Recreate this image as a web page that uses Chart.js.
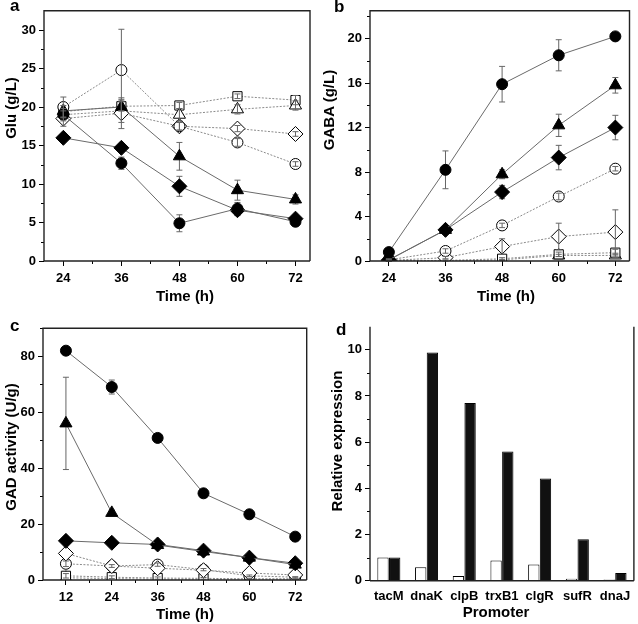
<!DOCTYPE html>
<html>
<head>
<meta charset="utf-8">
<script src="https://cdn.jsdelivr.net/npm/chart.js@4.4.1/dist/chart.umd.min.js"></script>
<style>
  body { margin: 0; background: #fff; }
  #page { position: relative; width: 638px; height: 624px; overflow: hidden; font-family: "Liberation Sans", Arial, sans-serif; }
  .panel { position: absolute; }
  .letter { position: absolute; font-size: 17px; font-weight: bold; color: #000; }
  .title { position: absolute; font-size: 15px; font-weight: bold; color: #000; white-space: nowrap; line-height: 1; transform: translate(-50%, -50%); }
  .title.vert { transform: translate(-50%, -50%) rotate(-90deg); }
</style>
</head>
<body>
<div id="page">
  <canvas id="chart-a" class="panel" width="319" height="310" style="left:0;top:0"></canvas>
  <canvas id="chart-b" class="panel" width="319" height="310" style="left:319px;top:0"></canvas>
  <canvas id="chart-c" class="panel" width="319" height="314" style="left:0;top:310px"></canvas>
  <canvas id="chart-d" class="panel" width="319" height="314" style="left:319px;top:310px"></canvas>
  <div class="letter" style="left:10px;top:-4px">a</div>
  <div class="letter" style="left:334px;top:-3px">b</div>
  <div class="letter" style="left:10px;top:316px">c</div>
  <div class="letter" style="left:336px;top:320px">d</div>
  <div class="title vert" style="left:10px;top:108px">Glu (g/L)</div>
  <div class="title" style="left:185px;top:295px">Time (h)</div>
  <div class="title vert" style="left:328px;top:110px">GABA (g/L)</div>
  <div class="title" style="left:506px;top:295px">Time (h)</div>
  <div class="title vert" style="left:10px;top:447px">GAD activity (U/g)</div>
  <div class="title" style="left:185px;top:613px">Time (h)</div>
  <div class="title vert" style="left:336px;top:441px">Relative expression</div>
  <div class="title" style="left:496px;top:611px">Promoter</div>
</div>
<script>
const TIME_AB = [24, 36, 48, 60, 72];
const TIME_C = [12, 24, 36, 48, 60, 72];

// a: Glu (g/L)
const gluFilledCircle = [19.0, 12.7, 4.9, 6.8, 5.1];
const gluFilledCircleErr = [0.5, 0.8, 1.1, 0.8, 0.3];
const gluFilledTriangle = [19.5, 20.0, 13.6, 9.2, 8.0];
const gluFilledTriangleErr = [0.6, 0.8, 1.8, 1.3, 0.6];
const gluFilledDiamond = [16.0, 14.7, 9.7, 6.6, 5.5];
const gluFilledDiamondErr = [0.3, 0.4, 1.3, 0.7, 0.4];
const gluOpenCircle = [20.0, 24.8, 17.5, 15.4, 12.6];
const gluOpenCircleErr = [1.3, 5.3, 0.5, 0.5, 0.3];
const gluOpenDiamond = [18.5, 19.2, 17.5, 17.2, 16.5];
const gluOpenDiamondErr = [1.0, 2.0, 0.5, 0.4, 0.3];
const gluOpenTriangle = [19.0, 19.5, 19.0, 19.7, 20.2];
const gluOpenTriangleErr = [0.8, 1.5, 0.8, 0.6, 0.6];
const gluOpenSquare = [19.4, 20.1, 20.2, 21.4, 20.9];
const gluOpenSquareErr = [0.8, 0.6, 0.4, 0.3, 0.6];

// b: GABA (g/L)
const gabaFilledCircle = [0.8, 8.2, 15.9, 18.5, 20.2];
const gabaFilledCircleErr = [0.2, 1.7, 1.6, 1.4, 0.2];
const gabaFilledTriangle = [0.1, 2.8, 7.8, 12.2, 15.8];
const gabaFilledTriangleErr = [0.1, 0.3, 0.4, 1.0, 0.7];
const gabaFilledDiamond = [0.1, 2.8, 6.2, 9.3, 12.0];
const gabaFilledDiamondErr = [0.1, 0.3, 0.6, 1.1, 1.1];
const gabaOpenCircle = [0.1, 0.9, 3.2, 5.8, 8.3];
const gabaOpenCircleErr = [0.1, 0.2, 0.2, 0.3, 0.2];
const gabaOpenDiamond = [0.05, 0.3, 1.3, 2.2, 2.6];
const gabaOpenDiamondErr = [0.05, 0.1, 0.7, 1.2, 2.0];
const gabaOpenSquare = [0.05, 0.05, 0.2, 0.6, 0.75];
const gabaOpenSquareErr = [0.05, 0.05, 0.1, 0.2, 0.3];
const gabaOpenTriangle = [0.0, 0.0, 0.1, 0.5, 0.5];
const gabaOpenTriangleErr = [0.0, 0.0, 0.05, 0.1, 0.2];

// c: GAD activity (U/g)
const gadFilledCircle = [82.0, 69.0, 50.8, 31.0, 23.5, 15.5];
const gadFilledCircleErr = [0.5, 2.5, 0.8, 0.5, 0.5, 0.5];
const gadFilledTriangle = [56.0, 24.0, 12.5, 10.2, 8.0, 5.5];
const gadFilledTriangleErr = [16.5, 1.0, 0.8, 0.6, 0.5, 0.5];
const gadFilledDiamond = [14.0, 13.3, 12.7, 10.5, 8.0, 6.0];
const gadFilledDiamondErr = [0.5, 0.4, 0.4, 0.5, 0.4, 0.3];
const gadOpenDiamond = [9.5, 5.0, 4.2, 3.5, 2.5, 1.8];
const gadOpenCircle = [5.8, 5.0, 5.5, 3.7, 1.5, 1.0];
const gadOpenCircleErr = [1.0, 0.5, 0.6, 0.4, 0.3, 0.2];
const gadOpenSquare = [1.5, 1.0, 0.7, 0.6, 0.4, 0.4];
const gadOpenSquareErr = [0.8, 0.5, 0.4, 0.3, 0.2, 0.2];
const gadOpenTriangle = [0.8, 0.5, 0.3, 0.3, 0.3, 0.3];

// d: relative expression
const PROMOTERS = ['tacM', 'dnaK', 'clpB', 'trxB1', 'clgR', 'sufR', 'dnaJ'];
const exprWhite = [1.0, 0.58, 0.2, 0.88, 0.7, 0.08, 0.05];
const exprBlack = [1.0, 9.88, 7.7, 5.6, 4.43, 1.8, 0.33];

const TICKS_TIME_AB = [24, 36, 48, 60, 72];
const MINOR_TIME_AB = [30, 42, 54, 66];
const TICKS_TIME_C = [12, 24, 36, 48, 60, 72];
const MINOR_TIME_C = [18, 30, 42, 54, 66];
const TICKS_GLU = [0, 5, 10, 15, 20, 25, 30];
const MINOR_GLU = [2.5, 7.5, 12.5, 17.5, 22.5, 27.5];
const TICKS_GABA = [0, 4, 8, 12, 16, 20];
const MINOR_GABA = [2, 6, 10, 14, 18, 22];
const TICKS_GAD = [0, 20, 40, 60, 80];
const MINOR_GAD = [10, 30, 50, 70, 90];
const TICKS_EXPR = [0, 2, 4, 6, 8, 10];
const MINOR_EXPR = [1, 3, 5, 7, 9];

const FONT = '"Liberation Sans", Arial, sans-serif';
const SOLID_LINE = '#6a6a6a';
const DOTTED_LINE = '#8a8a8a';

const MARKER = {
  filledCircle: { style: 'circle', fill: '#000', radius: 5.5, open: false },
  filledTriangle: { style: 'triangle', fill: '#000', radius: 7, open: false },
  filledDiamond: { style: 'rectRot', fill: '#000', radius: 7.5, open: false },
  openCircle: { style: 'circle', fill: '#fff', radius: 5.5, open: true },
  openDiamond: { style: 'rectRot', fill: '#fff', radius: 7.5, open: true },
  openTriangle: { style: 'triangle', fill: '#fff', radius: 7, open: true },
  openSquare: { style: 'rect', fill: '#fff', radius: 6.5, open: true },
};

function series(xs, ys, errs, kind) {
  const m = MARKER[kind];
  return {
    data: xs.map((x, i) => ({ x, y: ys[i] })),
    errors: errs,
    openMarker: m.open,
    pointStyle: m.style,
    pointRadius: m.radius,
    pointBackgroundColor: m.fill,
    pointBorderColor: '#000',
    pointBorderWidth: 1,
    borderColor: m.open ? DOTTED_LINE : SOLID_LINE,
    borderDash: m.open ? [2, 1.5] : [],
    borderWidth: 1,
    tension: 0,
    fill: false,
  };
}

function drawErrorBars(chart, onTop) {
  const { ctx, scales: { x, y } } = chart;
  ctx.save();
  ctx.strokeStyle = '#666';
  ctx.lineWidth = 1;
  chart.data.datasets.forEach((ds) => {
    if (!ds.errors || ds.openMarker !== onTop) {
      return;
    }
    ds.data.forEach((p, j) => {
      const e = ds.errors[j];
      if (!e) {
        return;
      }
      const px = x.getPixelForValue(p.x);
      const top = y.getPixelForValue(p.y + e);
      const bot = y.getPixelForValue(Math.max(p.y - e, 0));
      ctx.beginPath();
      ctx.moveTo(px, top);
      ctx.lineTo(px, bot);
      ctx.moveTo(px - 3, top);
      ctx.lineTo(px + 3, top);
      ctx.moveTo(px - 3, bot);
      ctx.lineTo(px + 3, bot);
      ctx.stroke();
    });
  });
  ctx.restore();
}

// Filled markers hide their bars, open ones show them through
const errorBarsPlugin = {
  id: 'errorBars',
  beforeDatasetsDraw(chart) {
    drawErrorBars(chart, false);
  },
  afterDatasetsDraw(chart) {
    drawErrorBars(chart, true);
  },
};

// Frame round the plot area and the short minor ticks
const framePlugin = {
  id: 'frame',
  afterDraw(chart, args, opts) {
    const { ctx, chartArea: { left, right, top, bottom }, scales } = chart;
    ctx.save();
    ctx.strokeStyle = '#000';
    ctx.lineWidth = 1;
    (opts.minorX || []).forEach((v) => {
      const px = Math.round(scales.x.getPixelForValue(v)) + 0.5;
      ctx.beginPath();
      ctx.moveTo(px, bottom);
      ctx.lineTo(px, bottom + 3);
      ctx.stroke();
    });
    (opts.minorY || []).forEach((v) => {
      const py = Math.round(scales.y.getPixelForValue(v)) + 0.5;
      ctx.beginPath();
      ctx.moveTo(left, py);
      ctx.lineTo(left - 3, py);
      ctx.stroke();
    });
    ctx.lineWidth = 1.4;
    ctx.strokeStyle = '#222';
    ctx.beginPath();
    if (opts.box) {
      ctx.moveTo(left, bottom);
      ctx.lineTo(left, top);
      ctx.lineTo(right, top);
      ctx.lineTo(right, bottom);
    } else {
      ctx.moveTo(left, top);
      ctx.lineTo(left, bottom);
      ctx.moveTo(right, top);
      ctx.lineTo(right, bottom);
    }
    ctx.moveTo(left, bottom);
    ctx.lineTo(right, bottom);
    ctx.stroke();
    ctx.restore();
  },
};

function tickFont() {
  return { family: FONT, size: 13, weight: 'bold' };
}

function axisX(min, max, ticks, height) {
  return {
    type: 'linear',
    min,
    max,
    afterBuildTicks: (axis) => { axis.ticks = ticks.map((v) => ({ value: v })); },
    afterFit: (axis) => { axis.height = height; },
    grid: { drawOnChartArea: false, tickLength: 5, color: '#000' },
    border: { display: false },
    ticks: { font: tickFont(), color: '#000', padding: 4.5, maxRotation: 0 },
  };
}

function axisY(min, max, ticks, width) {
  return {
    min,
    max,
    afterBuildTicks: (axis) => { axis.ticks = ticks.map((v) => ({ value: v })); },
    afterFit: (axis) => { axis.width = width; },
    grid: { drawOnChartArea: false, tickLength: 5, color: '#000' },
    border: { display: false },
    ticks: { font: tickFont(), color: '#000', padding: 3 },
  };
}

function lineChart(id, datasets, x, y, padding, minorX, minorY) {
  return new Chart(document.getElementById(id), {
    type: 'line',
    data: { datasets },
    options: {
      responsive: false,
      animation: false,
      layout: { padding },
      scales: { x, y },
      plugins: {
        legend: { display: false },
        tooltip: { enabled: false },
        frame: { box: true, minorX, minorY },
      },
    },
    plugins: [errorBarsPlugin, framePlugin],
  });
}

lineChart('chart-a', [
  series(TIME_AB, gluFilledCircle, gluFilledCircleErr, 'filledCircle'),
  series(TIME_AB, gluFilledTriangle, gluFilledTriangleErr, 'filledTriangle'),
  series(TIME_AB, gluFilledDiamond, gluFilledDiamondErr, 'filledDiamond'),
  series(TIME_AB, gluOpenCircle, gluOpenCircleErr, 'openCircle'),
  series(TIME_AB, gluOpenDiamond, gluOpenDiamondErr, 'openDiamond'),
  series(TIME_AB, gluOpenTriangle, gluOpenTriangleErr, 'openTriangle'),
  series(TIME_AB, gluOpenSquare, gluOpenSquareErr, 'openSquare'),
], axisX(20, 75, TICKS_TIME_AB, 49),
   axisY(0, 32.5, TICKS_GLU, 44),
   { top: 9.5, right: 9, left: 0, bottom: 0 }, MINOR_TIME_AB, MINOR_GLU);

lineChart('chart-b', [
  series(TIME_AB, gabaFilledCircle, gabaFilledCircleErr, 'filledCircle'),
  series(TIME_AB, gabaFilledTriangle, gabaFilledTriangleErr, 'filledTriangle'),
  series(TIME_AB, gabaFilledDiamond, gabaFilledDiamondErr, 'filledDiamond'),
  series(TIME_AB, gabaOpenCircle, gabaOpenCircleErr, 'openCircle'),
  series(TIME_AB, gabaOpenDiamond, gabaOpenDiamondErr, 'openDiamond'),
  series(TIME_AB, gabaOpenSquare, gabaOpenSquareErr, 'openSquare'),
  series(TIME_AB, gabaOpenTriangle, gabaOpenTriangleErr, 'openTriangle'),
], axisX(20, 75, TICKS_TIME_AB, 49),
   axisY(0, 22.5, TICKS_GABA, 51),
   { top: 9.5, right: 5, left: 0, bottom: 0 }, MINOR_TIME_AB, MINOR_GABA);

lineChart('chart-c', [
  series(TIME_C, gadFilledCircle, gadFilledCircleErr, 'filledCircle'),
  series(TIME_C, gadFilledTriangle, gadFilledTriangleErr, 'filledTriangle'),
  series(TIME_C, gadFilledDiamond, gadFilledDiamondErr, 'filledDiamond'),
  series(TIME_C, gadOpenDiamond, null, 'openDiamond'),
  series(TIME_C, gadOpenCircle, gadOpenCircleErr, 'openCircle'),
  series(TIME_C, gadOpenSquare, gadOpenSquareErr, 'openSquare'),
  series(TIME_C, gadOpenTriangle, null, 'openTriangle'),
], axisX(6, 75, TICKS_TIME_C, 44),
   axisY(0, 90, TICKS_GAD, 43),
   { top: 18.3, right: 12.3, left: 0, bottom: 0 }, MINOR_TIME_C, MINOR_GAD);

new Chart(document.getElementById('chart-d'), {
  type: 'bar',
  data: {
    labels: PROMOTERS,
    datasets: [
      { data: exprWhite, backgroundColor: '#fff', borderColor: '#000', borderWidth: 1 },
      { data: exprBlack, backgroundColor: '#111', borderColor: '#000', borderWidth: 1 },
    ],
  },
  options: {
    responsive: false,
    animation: false,
    layout: { padding: { top: 16.7, right: 4, left: 0, bottom: 0 } },
    datasets: { bar: { categoryPercentage: 0.62, barPercentage: 0.97 } },
    scales: {
      x: {
        afterFit: (axis) => { axis.height = 43.3; },
        grid: { display: false, drawTicks: false },
        border: { display: false },
        ticks: { font: tickFont(), color: '#000', padding: 7.5, maxRotation: 0 },
      },
      y: axisY(0, 11, TICKS_EXPR, 51),
    },
    plugins: {
      legend: { display: false },
      tooltip: { enabled: false },
      frame: { box: false, minorY: MINOR_EXPR },
    },
  },
  plugins: [framePlugin],
});
</script>
</body>
</html>
